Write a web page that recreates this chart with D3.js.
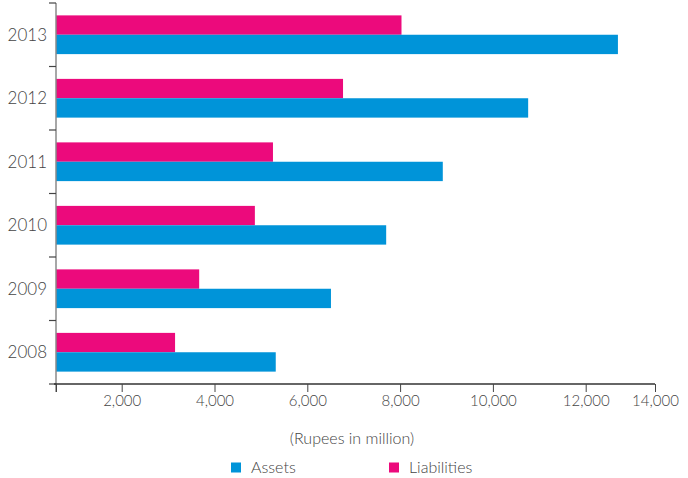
<!DOCTYPE html>
<html>
<head>
<meta charset="utf-8">
<script src="https://cdn.jsdelivr.net/npm/d3@7"></script>
<style>
  html, body { margin: 0; padding: 0; background: #fff; }
  svg { display: block; font-family: Lato, "Open Sans", sans-serif; font-weight: 300; }
</style>
</head>
<body>
<svg id="chart" width="688" height="478"></svg>
<script>
const years = ["2013", "2012", "2011", "2010", "2009", "2008"];
const assets = [12930, 10760, 8920, 7700, 6510, 5320];
const liabilities = [8030, 6770, 5260, 4870, 3670, 3150];
const xTicks = [2000, 4000, 6000, 8000, 10000, 12000, 14000];
const seriesNames = ["Liabilities", "Assets"];
const colors = { Assets: "#0094d9", Liabilities: "#ec0a7c" };
const axisTitle = "(Rupees in million)";

const svg = d3.select("#chart");

// piecewise linear scale reproducing the reference's tick spacing
const x = d3.scaleLinear()
  .domain([0, 2000, 12000, 14000])
  .range([56, 121.7, 585.7, 655]);

const y0 = d3.scaleBand().domain(years).range([3, 384])
  .paddingInner(0.39).paddingOuter(0.195);
const y1 = d3.scaleBand().domain(seriesNames).range([0, y0.bandwidth()]);

const rows = years.map((yr, i) => ({ year: yr, Assets: assets[i], Liabilities: liabilities[i] }));

const g = svg.append("g");
rows.forEach(r => {
  seriesNames.forEach(s => {
    g.append("rect")
      .attr("x", x(0))
      .attr("y", y0(r.year) + y1(s))
      .attr("width", x(r[s]) - x(0))
      .attr("height", y1.bandwidth())
      .attr("fill", colors[s]);
  });
});

// Y axis
const yAxisG = svg.append("g");
yAxisG.append("line")
  .attr("x1", 56).attr("x2", 56).attr("y1", 3).attr("y2", 392)
  .attr("stroke", "#8a8a8a").attr("stroke-width", 1.5);
const step = y0.step();
const bounds = d3.range(years.length + 1).map(i => 3 + i * step);
yAxisG.selectAll("line.tk").data(bounds).enter().append("line")
  .attr("class", "tk")
  .attr("x1", 49).attr("x2", 56)
  .attr("y1", d => d).attr("y2", d => d)
  .attr("stroke", "#444").attr("stroke-width", 1.2);
yAxisG.selectAll("text").data(years).enter().append("text")
  .attr("x", 47)
  .attr("y", d => y0(d) + y0.bandwidth() / 2 + 2)
  .attr("text-anchor", "end")
  .attr("dominant-baseline", "middle")
  .attr("font-size", 17)
  .attr("fill", "#444")
  .text(d => d);

// X axis
const xAxis = d3.axisBottom(x)
  .tickValues([0].concat(xTicks))
  .tickSize(8)
  .tickFormat(d => d === 0 ? "" : d3.format(",")(d));
const xg = svg.append("g").attr("transform", "translate(0,384)").call(xAxis);
xg.select(".domain").attr("d", "M54,0H655").attr("stroke", "#333").attr("stroke-width", 1.3);
xg.selectAll(".tick line").attr("stroke", "#444");
xg.selectAll(".tick text")
  .attr("font-family", "Lato, 'Open Sans', sans-serif")
  .attr("font-weight", 300)
  .attr("font-size", 15)
  .attr("fill", "#444")
  .attr("y", 11);

// Axis title
svg.append("text")
  .attr("x", 352).attr("y", 444)
  .attr("text-anchor", "middle")
  .attr("font-size", 16)
  .attr("fill", "#444")
  .text(axisTitle);

// Legend
const legendItems = [
  { name: "Assets", x: 231 },
  { name: "Liabilities", x: 389 }
];
const lg = svg.append("g");
legendItems.forEach(it => {
  lg.append("rect").attr("x", it.x).attr("y", 462.5).attr("width", 10).attr("height", 10)
    .attr("fill", colors[it.name]);
  lg.append("text").attr("x", it.x + 20).attr("y", 472.5)
    .attr("font-size", 16).attr("fill", "#444").text(it.name);
});
</script>
</body>
</html>
